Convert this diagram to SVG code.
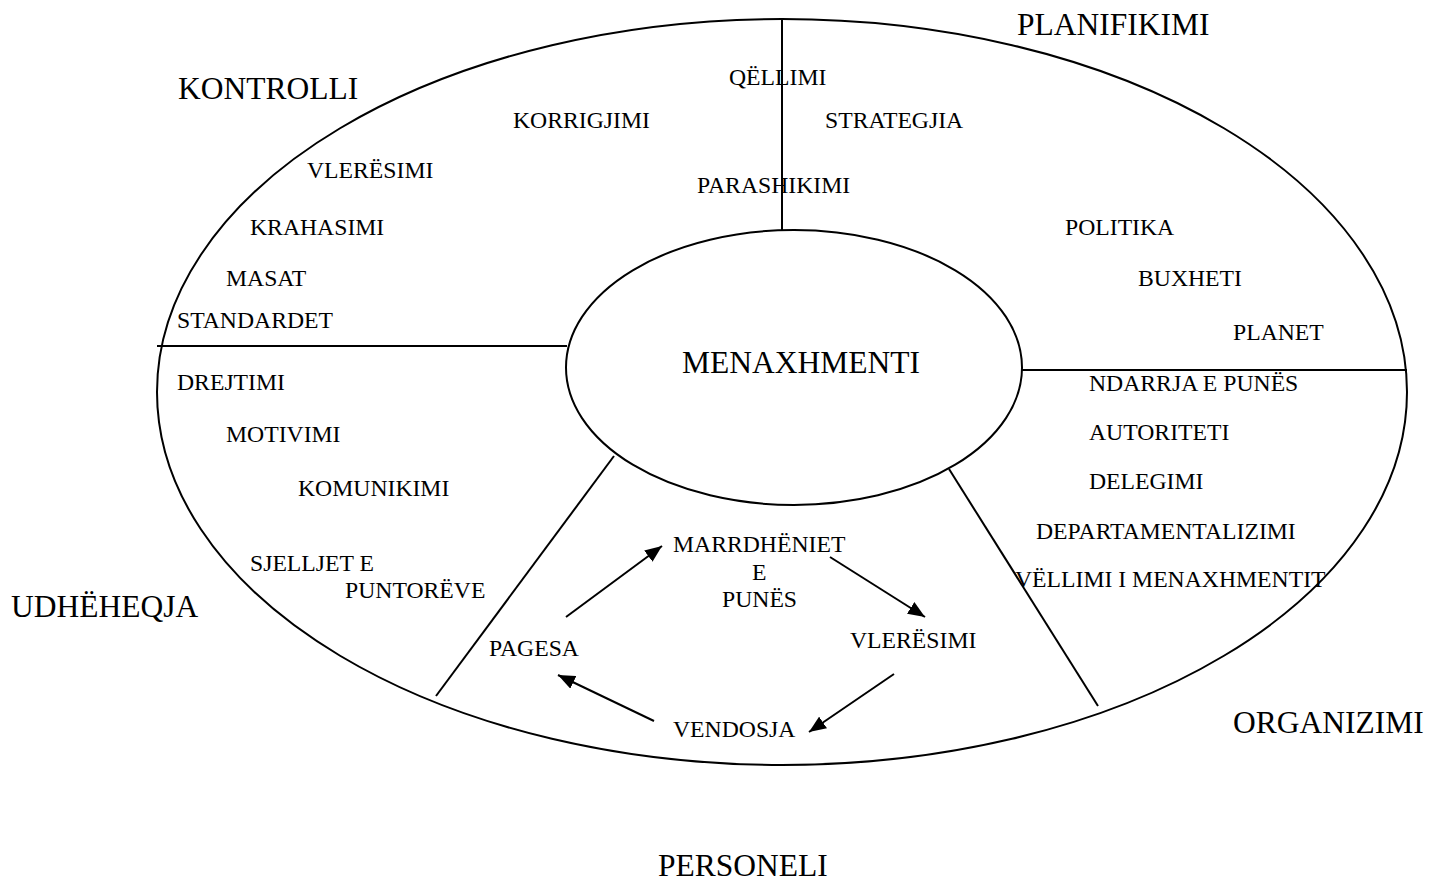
<svg xmlns="http://www.w3.org/2000/svg" width="1444" height="881" viewBox="0 0 1444 881">
<style>
.shape{fill:none;stroke:#000;stroke-width:2}
.conn{fill:none;stroke:#000;stroke-width:2}
.big{font-family:"Liberation Serif","Times New Roman",serif;font-size:31.5px;fill:#000}
.sm{font-family:"Liberation Serif","Times New Roman",serif;font-size:23.7px;fill:#000}
</style>
<defs>
<marker id="ah" markerUnits="userSpaceOnUse" markerWidth="18" markerHeight="14" refX="17" refY="7" orient="auto">
<path d="M0,0 L17,7 L0,14 z" fill="#000"/>
</marker>
</defs>
<rect width="1444" height="881" fill="#fff"/>
<g id="outer">
<ellipse class="shape" cx="782" cy="392" rx="625" ry="373"/>
</g>
<g id="dividers">
<line class="shape" x1="782" y1="19" x2="782" y2="230"/>
<line class="shape" x1="157" y1="346" x2="567" y2="346"/>
<line class="shape" x1="1022" y1="370" x2="1407" y2="370"/>
<line class="shape" x1="614" y1="456" x2="436" y2="696"/>
<line class="shape" x1="949" y1="469" x2="1098" y2="706"/>
</g>
<g id="menaxhmenti">
<ellipse class="shape" cx="794" cy="367.5" rx="228" ry="137.5" fill="#fff"/>
<text class="big" x="682" y="373">MENAXHMENTI</text>
</g>
<g id="planifikimi">
<text class="big" x="1017" y="35">PLANIFIKIMI</text>
<text class="sm" x="729" y="85">QËLLIMI</text>
<text class="sm" x="825" y="128">STRATEGJIA</text>
<text class="sm" x="697" y="193">PARASHIKIMI</text>
<text class="sm" x="1065" y="235">POLITIKA</text>
<text class="sm" x="1138" y="286">BUXHETI</text>
<text class="sm" x="1233" y="340">PLANET</text>
</g>
<g id="kontrolli">
<text class="big" x="178" y="99">KONTROLLI</text>
<text class="sm" x="513" y="128">KORRIGJIMI</text>
<text class="sm" x="307" y="178">VLERËSIMI</text>
<text class="sm" x="250" y="235">KRAHASIMI</text>
<text class="sm" x="226" y="286">MASAT</text>
<text class="sm" x="177" y="328">STANDARDET</text>
</g>
<g id="udheheqja">
<text class="big" x="11" y="617">UDHËHEQJA</text>
<text class="sm" x="177" y="390">DREJTIMI</text>
<text class="sm" x="226" y="442">MOTIVIMI</text>
<text class="sm" x="298" y="496">KOMUNIKIMI</text>
<text class="sm" x="250" y="571">SJELLJET E</text>
<text class="sm" x="345" y="598">PUNTORËVE</text>
</g>
<g id="organizimi">
<text class="big" x="1233" y="733">ORGANIZIMI</text>
<text class="sm" x="1089" y="391">NDARRJA E PUNËS</text>
<text class="sm" x="1089" y="440">AUTORITETI</text>
<text class="sm" x="1089" y="489">DELEGIMI</text>
<text class="sm" x="1036" y="539">DEPARTAMENTALIZIMI</text>
<text class="sm" x="1015" y="587">VËLLIMI I MENAXHMENTIT</text>
</g>
<g id="personeli">
<text class="big" x="658" y="876">PERSONELI</text>
</g>
<g id="node-marrdheniet">
<text class="sm" x="673" y="552">MARRDHËNIET</text>
<text class="sm" x="752" y="580">E</text>
<text class="sm" x="722" y="607">PUNËS</text>
</g>
<g id="node-vleresimi">
<text class="sm" x="850" y="648">VLERËSIMI</text>
</g>
<g id="node-vendosja">
<text class="sm" x="673" y="737">VENDOSJA</text>
</g>
<g id="node-pagesa">
<text class="sm" x="489" y="656">PAGESA</text>
</g>
<g id="connectors">
<line class="conn" x1="566" y1="617" x2="662" y2="546" marker-end="url(#ah)"/>
<line class="conn" x1="830" y1="557" x2="925" y2="617" marker-end="url(#ah)"/>
<line class="conn" x1="894" y1="674" x2="809" y2="732" marker-end="url(#ah)"/>
<line class="conn" x1="654" y1="721" x2="558" y2="675" marker-end="url(#ah)"/>
</g>
</svg>
